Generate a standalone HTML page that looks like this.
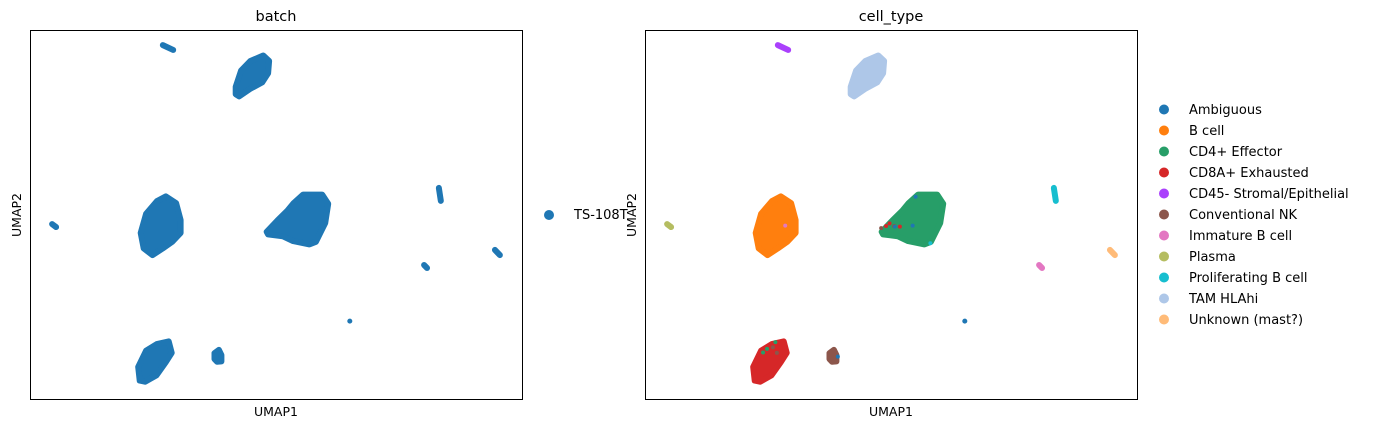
<!DOCTYPE html>
<html><head><meta charset="utf-8"><style>
html,body{margin:0;padding:0;background:#fff;}
svg{display:block;font-family:"DejaVu Sans","Liberation Sans",sans-serif;}
</style></head><body>
<svg id="fig" width="1375" height="429" viewBox="0 0 1375 429" xmlns="http://www.w3.org/2000/svg">
<g id="panelL"></g>
<g id="panelR"></g>
<text x="276" y="21" font-size="14.5" text-anchor="middle">batch</text>
<text x="891" y="21" font-size="14.5" text-anchor="middle">cell_type</text>
<text x="276" y="416" font-size="12.5" text-anchor="middle">UMAP1</text>
<text x="891" y="416" font-size="12.5" text-anchor="middle">UMAP1</text>
<text transform="translate(21,215) rotate(-90)" font-size="12.5" text-anchor="middle">UMAP2</text>
<g id="legL"></g>
<text transform="translate(636,215) rotate(-90)" font-size="12.5" text-anchor="middle">UMAP2</text>
<g id="legR"></g>
</svg>
<script>
const categories = ["Ambiguous","B cell","CD4+ Effector","CD8A+ Exhausted","CD45- Stromal/Epithelial","Conventional NK","Immature B cell","Plasma","Proliferating B cell","TAM HLAhi","Unknown (mast?)"];
const colors = ["#1f77b4","#ff7f0e","#279e68","#d62728","#aa40fc","#8c564b","#e377c2","#b5bd61","#17becf","#aec7e8","#ffbb78"];
const batches = ["TS-108T"];
// cluster outlines in UMAP coords, category index
const clusterCat = [9,1,2,3,5];
const clusterX = [
 [47.4,48.6,48.4,47.2,44.7,42.5,41.8,41.8,42.9,44.8],
 [27.6,29.7,30.6,30.6,28.9,27.0,24.9,23.1,22.5,23.6,25.8],
 [55.5,59.4,60.6,60.0,58.1,56.8,53.5,51.4,48.4,48.1,50.3,52.3,53.6],
 [28.2,28.8,27.6,25.7,23.4,22.3,22.0,23.6,25.8],
 [38.4,38.9,38.9,38.0,37.5,37.5]
];
const clusterY = [
 [93.1,91.6,88.3,85.8,84.0,82.0,82.6,84.6,89.0,91.6],
 [54.9,53.1,48.5,45.0,42.6,40.8,39.0,40.8,45.0,50.2,53.6],
 [55.4,55.4,52.9,47.7,42.6,41.9,42.8,44.1,44.6,45.3,48.4,51.0,53.1],
 [15.6,12.5,10.0,6.4,4.7,5.0,8.7,13.1,14.9],
 [13.3,11.9,10.2,10.1,10.8,12.4]
];
// small elongated clusters: endpoints
const smallCat = [4,7,8,6,10,0];
const smallX1 = [27.0,4.5,83.1,80.1,94.5,65.0];
const smallY1 = [95.9,47.4,57.2,36.3,40.4,21.1];
const smallX2 = [29.1,5.3,83.5,80.7,95.5,65.0];
const smallY2 = [94.6,46.6,53.7,35.5,39.0,21.1];
// scattered off-cluster cells in right panel
const speckCat = [3,3,3,5,3,0,0,2,2,2,5,5,0,6,0,8];
const speckX = [49.7,50.7,49.0,48.0,51.8,55.0,54.4,24.0,24.8,26.5,26.8,26.0,50.8,28.5,39.2,58.0];
const speckY = [47.6,46.8,46.9,46.3,46.7,54.8,47.0,12.6,13.6,15.4,12.5,14.0,46.7,47.0,11.5,42.2];

const NS="http://www.w3.org/2000/svg";
function mk(tag, attrs, parent){const e=document.createElementNS(NS,tag);for(const k in attrs)e.setAttribute(k,attrs[k]);parent.appendChild(e);return e;}

function drawPanel(g, x0, colored){
  const W=492, H=369, y0=30;
  const sx=v=>x0+v/100*W, sy=v=>y0+H-v/100*H;
  for(let i=0;i<clusterX.length;i++){
    const pts=clusterX[i].map((x,j)=>sx(x).toFixed(1)+","+sy(clusterY[i][j]).toFixed(1)).join(" ");
    const c=colored?colors[clusterCat[i]]:colors[0];
    const p=mk("polygon",{points:pts,fill:c,stroke:c,"stroke-width":6,"stroke-linejoin":"round"},g);
    
    
  }
  for(let i=0;i<smallX1.length;i++){
    const c=colored?colors[smallCat[i]]:colors[0];
    const l=mk("line",{x1:sx(smallX1[i]),y1:sy(smallY1[i]),x2:sx(smallX2[i]),y2:sy(smallY2[i]),stroke:c,"stroke-width":smallCat[i]===0?5:6,"stroke-linecap":"round"},g);
    
    
  }
  if(colored){
    for(let i=0;i<speckX.length;i++){
      const d=mk("circle",{cx:sx(speckX[i]),cy:sy(speckY[i]),r:2,fill:colors[speckCat[i]]},g);
      
      
    }
  }
  const f=mk("rect",{x:x0+0.5,y:y0+0.5,width:W,height:H,fill:"none",stroke:"#000","stroke-width":1},g);
  
  
}
drawPanel(document.getElementById("panelL"),30,false);
drawPanel(document.getElementById("panelR"),645,true);

const legL=document.getElementById("legL");
batches.forEach((b,i)=>{
  const c=mk("circle",{cx:549,cy:215+i*21,r:5,fill:colors[0]},legL);
  
  
  const t=mk("text",{x:574,y:219+i*21,"font-size":13},legL);
  t.textContent=b;
  
  
});
const legR=document.getElementById("legR");
categories.forEach((cat,i)=>{
  const c=mk("circle",{cx:1164,cy:109.5+i*21,r:5,fill:colors[i]},legR);
  
  
  const t=mk("text",{x:1189,y:114+i*21,"font-size":13},legR);
  t.textContent=cat;
  
  
});
</script>
</body></html>
